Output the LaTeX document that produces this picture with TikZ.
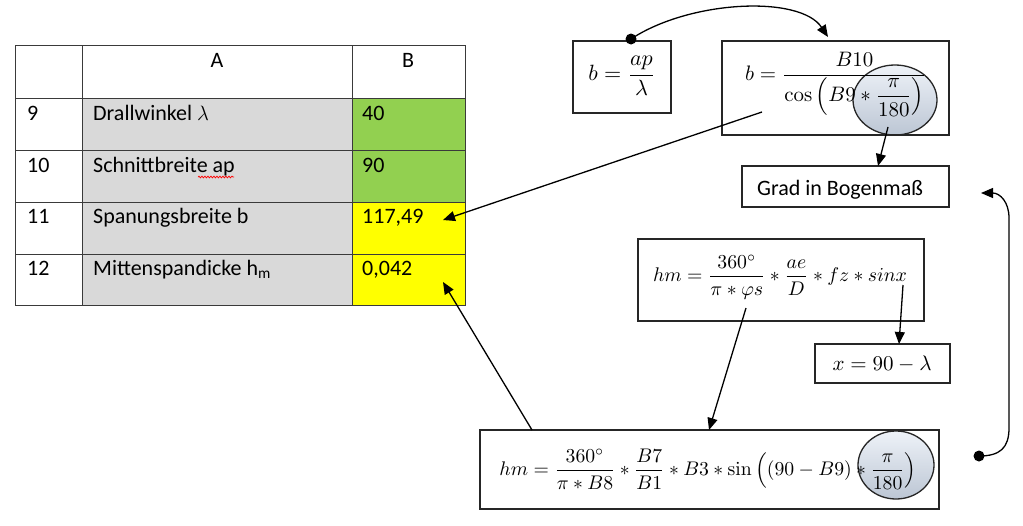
\documentclass[tikz,border=0pt]{standalone}
\usepackage{amsmath}
\usepackage[no-math]{fontspec}
\usepackage{graphicx}
\setmainfont{Carlito}
\usetikzlibrary{arrows.meta,shapes.geometric,decorations.pathmorphing}
\definecolor{cgray}{HTML}{D9D9D9}
\definecolor{cgreen}{HTML}{92D050}
\definecolor{cyellow}{HTML}{FFFF00}
\definecolor{cline}{HTML}{3A3A3A}
\definecolor{elltop}{HTML}{EEF2F8}
\definecolor{ellbot}{HTML}{BCC6D4}
\tikzset{
  cell/.style={draw=cline, line width=0.9pt, anchor=north west, inner sep=0pt, outer sep=0pt},
  ctext/.style={anchor=base west, inner sep=0pt, font=\fontsize{22}{26}\selectfont},
  fbox/.style={draw=black!85, line width=1.4pt, anchor=north west, inner sep=0pt, outer sep=0pt},
  ftext/.style={inner sep=0pt},
  oval/.style={ellipse, draw=black!85, line width=1.3pt, top color=elltop, bottom color=ellbot, inner sep=0pt},
  conn/.style={line width=1.3pt, -{Triangle[length=12pt,width=10pt]}},
  dotc/.style={circle, fill=black, inner sep=0pt, minimum size=11pt}
}
\begin{document}
\begin{tikzpicture}[x=1pt,y=-1pt]
\useasboundingbox[fill=white] (0,0) rectangle (1023,525);
% ---------- table ----------
\node[cell, minimum width=67pt, minimum height=53pt] (h0) at (15,45) {};
\node[cell, minimum width=270pt, minimum height=53pt] (hA) at (82,45) {};
\node[cell, minimum width=113pt, minimum height=53pt] (hB) at (352,45) {};
\node[cell, minimum width=67pt, minimum height=52pt] (n9) at (15,98) {};
\node[cell, fill=cgray, minimum width=270pt, minimum height=52pt] (a9) at (82,98) {};
\node[cell, fill=cgreen, minimum width=113pt, minimum height=52pt] (b9) at (352,98) {};
\node[cell, minimum width=67pt, minimum height=52pt] (n10) at (15,150) {};
\node[cell, fill=cgray, minimum width=270pt, minimum height=52pt] (a10) at (82,150) {};
\node[cell, fill=cgreen, minimum width=113pt, minimum height=52pt] (b10) at (352,150) {};
\node[cell, minimum width=67pt, minimum height=52pt] (n11) at (15,202) {};
\node[cell, fill=cgray, minimum width=270pt, minimum height=52pt] (a11) at (82,202) {};
\node[cell, fill=cyellow, minimum width=113pt, minimum height=52pt] (b11) at (352,202) {};
\node[cell, minimum width=67pt, minimum height=51pt] (n12) at (15,254) {};
\node[cell, fill=cgray, minimum width=270pt, minimum height=51pt] (a12) at (82,254) {};
\node[cell, fill=cyellow, minimum width=113pt, minimum height=51pt] (b12) at (352,254) {};
% table texts
\node[ctext, anchor=base] (tA) at (217,67) {A};
\node[ctext, anchor=base] (tB) at (408,67) {B};
\node[ctext] (t9) at (27,120) {9};
\node[ctext] (t10) at (27,172) {10};
\node[ctext] (t11) at (27,223) {11};
\node[ctext] (t12) at (27,275) {12};
\node[ctext] (l9) at (93,120) {Drallwinkel $\lambda$};
\node[ctext] (l10) at (93,172) {Schnittbreite ap};
\node[ctext] (l11) at (93,223) {Spanungsbreite b};
\node[ctext] (l12) at (93,275) {Mittenspandicke h\textsubscript{m}};
\node[ctext] (v9) at (362,120) {40};
\node[ctext] (v10) at (362,172) {90};
\node[ctext] (v11) at (362,223) {117,49};
\node[ctext] (v12) at (362,275) {0,042};
\draw[red, line width=0.7pt, decorate, decoration={snake, amplitude=0.9pt, segment length=3pt}] (198,177) -- (234,177);
% ---------- formula boxes ----------
\node[fbox, minimum width=98pt, minimum height=72pt] (f1) at (573,41) {};
\node[ftext] (f1t) at (622,76) {\resizebox{67pt}{!}{$b=\dfrac{ap}{\lambda}$}};
\node[oval, minimum width=84pt, minimum height=70pt] (e1) at (895,100) {};
\node[fbox, minimum width=227pt, minimum height=94pt] (f2) at (722,41) {};
\node[ftext] (f2t) at (836,84) {\resizebox{182pt}{!}{$b=\dfrac{B10}{\cos\left(B9\ast\dfrac{\pi}{180}\right)}$}};
\node[fbox, minimum width=207pt, minimum height=41pt] (g) at (742,166) {};
\node[ctext] (gt) at (757,195) {Grad in Bogenmaß};
\node[fbox, minimum width=286pt, minimum height=82pt] (f3) at (638,239) {};
\node[ftext] (f3t) at (780,277) {\resizebox{254pt}{!}{$hm=\dfrac{360^\circ}{\pi\ast\varphi s}\ast\dfrac{ae}{D}\ast fz\ast sinx$}};
\node[fbox, minimum width=135pt, minimum height=39pt] (f4) at (815,344) {};
\node[ftext] (f4t) at (882,364) {\resizebox{99pt}{!}{$x=90-\lambda$}};
\node[oval, minimum width=76pt, minimum height=68pt] (e2) at (896,465) {};
\node[fbox, minimum width=459pt, minimum height=79pt] (f5) at (480,430) {};
\node[ftext] (f5t) at (708,469) {\resizebox{417pt}{!}{$hm=\dfrac{360^\circ}{\pi\ast B8}\ast\dfrac{B7}{B1}\ast B3\ast\sin\left((90-B9)\ast\dfrac{\pi}{180}\right)$}};
% ---------- connectors ----------
\coordinate (s1) at (762,112);
\coordinate (d11) at (443,220);
\draw[conn] (s1) -- (d11);
\coordinate (s2) at (532,430);
\coordinate (d12) at (443,282);
\draw[conn] (s2) -- (d12);
\coordinate (s3) at (888,127);
\coordinate (d3) at (878,166);
\draw[conn] (s3) -- (d3);
\coordinate (s4) at (746,308);
\coordinate (d4) at (709,430);
\draw[conn] (s4) -- (d4);
\coordinate (s5) at (903,285);
\coordinate (d5) at (899,344);
\draw[conn] (s5) -- (d5);
\node[dotc] (p1) at (631,39) {};
\coordinate (d6) at (828,37);
\draw[conn] (p1.center) .. controls (690,0) and (800,-5) .. (d6);
\node[dotc] (p2) at (979,456) {};
\coordinate (d7) at (981,193);
\draw[conn] (p2.center) .. controls (1000,456) and (1009,448) .. (1009,428) -- (1009,218) .. controls (1009,202) and (1000,193) .. (d7);
\end{tikzpicture}
\end{document}
